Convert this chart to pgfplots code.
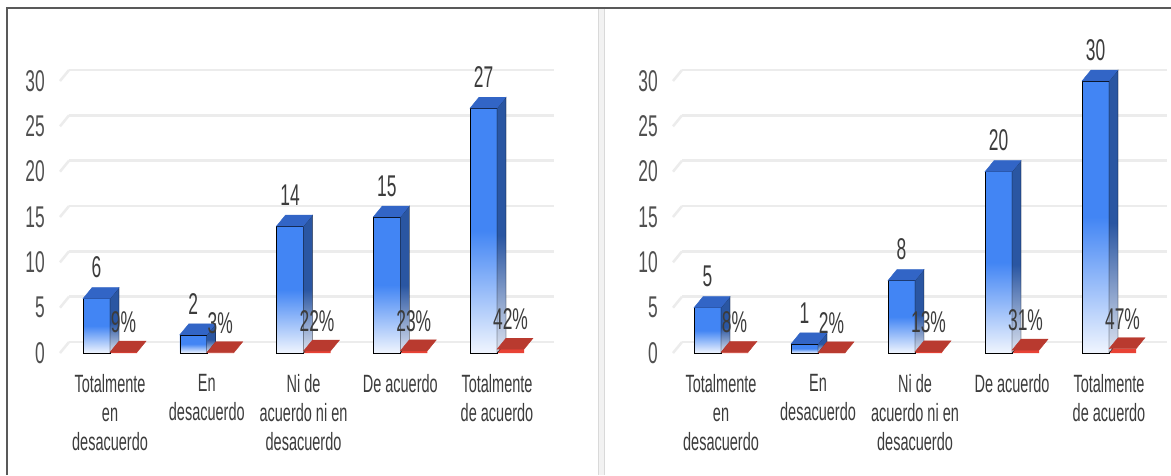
\documentclass[border=0pt]{standalone}
\usepackage{pgfplots}
\usepackage{pgfplotstable}
\pgfplotsset{compat=1.18}
\usepackage{fontspec}
\setmainfont{Liberation Sans}[FakeStretch=0.58]
\definecolor{bfront}{RGB}{66,133,244}
\definecolor{btop}{RGB}{50,101,198}
\definecolor{bside}{RGB}{42,86,162}
\definecolor{bbot}{RGB}{240,245,254}
\definecolor{sbot}{RGB}{222,228,240}
\definecolor{rfront}{RGB}{232,66,53}
\definecolor{rtop}{RGB}{185,58,47}
\definecolor{gridc}{RGB}{236,236,236}
\definecolor{txt}{RGB}{60,60,60}
\definecolor{ticktxt}{RGB}{80,80,80}
\pgfdeclareverticalshading{frontfade}{100bp}{color(0bp)=(bbot); color(25bp)=(bbot); color(50bp)=(bfront); color(100bp)=(bfront)}
\pgfdeclareverticalshading{sidefade}{100bp}{color(0bp)=(sbot); color(25bp)=(sbot); color(48bp)=(bside); color(100bp)=(bside)}
\pgfdeclareplotmark{empty}{}

\pgfplotstableread{
x v p f
0 6 9 0.09
1 2 3 0.03
2 14 22 0.22
3 15 23 0.23
4 27 42 0.42
}\lefttab
\pgfplotstableread{
x v p f
0 5 8 0.08
1 1 2 0.02
2 8 13 0.13
3 20 31 0.31
4 30 47 0.47
}\righttab

\pgfplotsset{
  panel/.style={
    y=9.0667pt, ymin=0, ymax=30, xmax=4.5,
    anchor=south west, clip=false,
    axis line style={draw=none}, major tick length=0pt,
    ytick={0,5,...,30}, xtick={0,...,4},
    xticklabels={{Totalmente\\en\\desacuerdo},{En\\desacuerdo},{Ni de\\acuerdo ni en\\desacuerdo},{De acuerdo},{Totalmente\\de acuerdo}},
    xticklabel style={align=center, anchor=north, inner sep=0pt, yshift=-21pt,
      font=\fontsize{25}{29}\selectfont, text=txt},
    yticklabel style={anchor=east, inner sep=0pt, xshift=-15pt,
      font=\fontsize{30}{30}\selectfont, text=ticktxt},
    /pgf/number format/assume math mode=true,
    ymajorgrids, y grid style={draw=gridc, line width=2.5pt, xshift=9pt, yshift=11pt},
  },
  bluebar/.style={ybar, bar width=27pt, bar shift=-13.5pt, draw=none, fill=bbot},
  blueprism/.style={scatter, only marks, mark=empty,
    visualization depends on={\thisrow{v} \as \val},
    scatter/@pre marker code/.code={%
      \pgfmathsetmacro\H{\val*9.0667}%
      \shade[shading=frontfade] (-27pt,0pt) rectangle (0pt,-\H*1pt);
      \shade[shading=sidefade] (0pt,0pt) -- (9pt,11pt) -- (9pt,11pt-\H*1pt) -- (0pt,-\H*1pt) -- cycle;
      \fill[btop] (-27pt,0pt) -- (-18pt,11pt) -- (9pt,11pt) -- (0pt,0pt) -- cycle;
    },
    scatter/@post marker code/.code={}},
  redbar/.style={ybar, bar width=27pt, bar shift=13.5pt, draw=none, fill=rfront},
  redprism/.style={scatter, only marks, mark=empty,
    scatter/@pre marker code/.code={%
      \fill[rtop] (0pt,0pt) -- (9pt,11pt) -- (36pt,11pt) -- (27pt,0pt) -- cycle;
    },
    scatter/@post marker code/.code={}},
  bluelab/.style={ybar, bar width=27pt, bar shift=-13.5pt, draw=none, fill=none,
    nodes near coords,
    every node near coord/.append style={anchor=center, xshift=-13.5pt, yshift=31pt, inner sep=0pt,
      font=\fontsize{30}{30}\selectfont, text=txt}},
  redlab/.style={ybar, bar width=27pt, bar shift=13.5pt, draw=none, fill=none,
    point meta=explicit,
    nodes near coords={\pgfmathprintnumber{\pgfplotspointmeta}\%},
    every node near coord/.append style={anchor=center, xshift=13.5pt, yshift=30pt, inner sep=0pt,
      font=\fontsize{30}{30}\selectfont, text=txt}},
}

\begin{document}
\begin{tikzpicture}
\useasboundingbox (0pt,0pt) rectangle (1171pt,-475pt);
\fill[white] (0pt,0pt) rectangle (1171pt,-475pt);
% panel frame lines
\fill[gray!10] (598pt,-8pt) rectangle (604pt,-475pt);
\draw[gray!30, line width=0.8pt] (598pt,-8pt) -- (598pt,-475pt);
\draw[gray!30, line width=0.8pt] (604pt,-8pt) -- (604pt,-475pt);
\draw[black!65, line width=1.3pt] (7pt,-475pt) -- (7pt,-8pt) -- (1171pt,-8pt);

\begin{axis}[panel, at={(60pt,-353pt)}, x=96.75pt, xmin=-0.517]
  \pgfplotsinvokeforeach{0,5,...,30}{\draw[gridc, line width=2.5pt] (axis cs:-0.517,#1) -- ++(9pt,11pt);}
  \addplot[bluebar] table[x=x, y=v] \lefttab;
  \addplot[blueprism] table[x=x, y=v] \lefttab;
  \addplot[redbar] table[x=x, y=f] \lefttab;
  \addplot[redprism] table[x=x, y=f] \lefttab;
  \addplot[bluelab] table[x=x, y=v] \lefttab;
  \addplot[redlab] table[x=x, y=f, meta=p] \lefttab;
\end{axis}

\begin{axis}[panel, at={(673pt,-353pt)}, x=97pt, xmin=-0.495]
  \pgfplotsinvokeforeach{0,5,...,30}{\draw[gridc, line width=2.5pt] (axis cs:-0.495,#1) -- ++(9pt,11pt);}
  \addplot[bluebar] table[x=x, y=v] \righttab;
  \addplot[blueprism] table[x=x, y=v] \righttab;
  \addplot[redbar] table[x=x, y=f] \righttab;
  \addplot[redprism] table[x=x, y=f] \righttab;
  \addplot[bluelab] table[x=x, y=v] \righttab;
  \addplot[redlab] table[x=x, y=f, meta=p] \righttab;
\end{axis}
\end{tikzpicture}
\end{document}
